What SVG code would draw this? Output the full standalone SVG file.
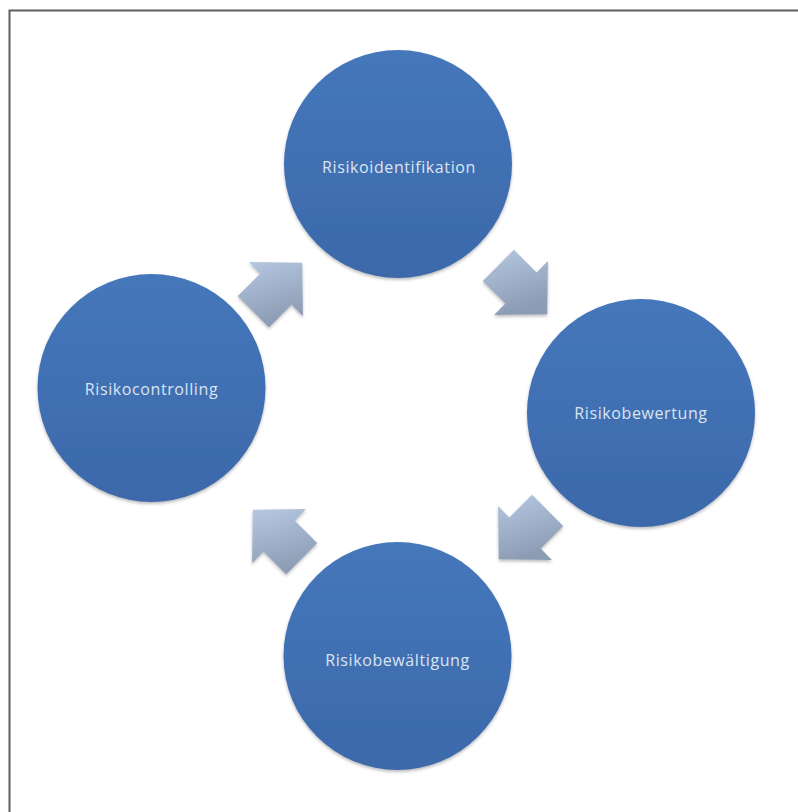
<svg xmlns="http://www.w3.org/2000/svg" width="798" height="812" viewBox="0 0 798 812">
  <defs>
    <linearGradient id="discFill" x1="0" y1="0" x2="0" y2="1">
      <stop offset="0" stop-color="#4577bb"/>
      <stop offset="1" stop-color="#3c69aa"/>
    </linearGradient>
    <linearGradient id="arrowFill" x1="0" y1="0" x2="0.3" y2="1">
      <stop offset="0" stop-color="#b6c8e2"/>
      <stop offset="1" stop-color="#8d9cb5"/>
    </linearGradient>
    <filter id="soft" x="-20%" y="-20%" width="140%" height="140%">
      <feDropShadow dx="0" dy="2" stdDeviation="1.6" flood-color="#404040" flood-opacity="0.35"/>
    </filter>
    <style>
      .disc { fill: url(#discFill); filter: url(#soft); }
      .arrow { fill: url(#arrowFill); filter: url(#soft); }
      .label { font-family: "Open Sans", "Liberation Sans", sans-serif; font-size: 16px; letter-spacing: 0.6px; fill: #dbe4f1; text-anchor: middle; dominant-baseline: central; }
      .frame { stroke: #5f5f5f; stroke-width: 2; fill: none; }
    </style>
  </defs>

  <rect width="798" height="812" fill="#ffffff"/>
  <path class="frame" d="M9.5 812 V10.5 H798"/>

  <!-- cycle arrows -->
  <g id="connectors">
    <polygon class="arrow" points="237.8,296.1 260.4,273.4 249.1,262.1 302.2,262.8 302.9,315.9 291.6,304.6 268.9,327.2"/>
    <polygon class="arrow" points="513.9,249.8 536.6,272.4 547.9,261.1 547.2,314.2 494.1,314.9 505.4,303.6 482.8,280.9"/>
    <polygon class="arrow" points="563.2,525.9 540.6,548.6 551.9,559.9 498.8,559.2 498.1,506.1 509.4,517.4 532.1,494.8"/>
    <polygon class="arrow" points="286.1,574.2 263.4,551.6 252.1,562.9 252.8,509.8 305.9,509.1 294.6,520.4 317.2,543.1"/>
  </g>

  <g id="node-identifikation">
    <circle class="disc" cx="398" cy="164" r="114"/>
    <text class="label" x="399" y="167">Risikoidentifikation</text>
  </g>
  <g id="node-bewertung">
    <circle class="disc" cx="641" cy="413" r="114"/>
    <text class="label" x="641" y="413">Risikobewertung</text>
  </g>
  <g id="node-bewaeltigung">
    <circle class="disc" cx="397.5" cy="656" r="114"/>
    <text class="label" x="397.5" y="660">Risikobewältigung</text>
  </g>
  <g id="node-controlling">
    <circle class="disc" cx="151.5" cy="388" r="114"/>
    <text class="label" x="151.5" y="389">Risikocontrolling</text>
  </g>
</svg>
